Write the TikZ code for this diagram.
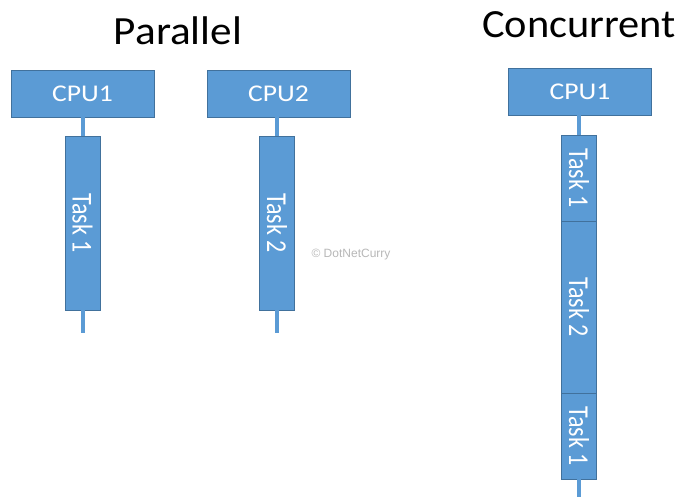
\documentclass[tikz,border=0pt]{standalone}
\usepackage{fontspec}
\usepackage{graphicx}
\setmainfont{Carlito}
\newfontfamily\markfont{Liberation Sans}
\definecolor{cpufill}{HTML}{5B9BD5}
\definecolor{cpuedge}{HTML}{41719C}
\newcommand{\widetext}[2]{\scalebox{#1}[1]{#2}}
\newcommand{\tallglyphs}[1]{\scalebox{1}[1.2]{#1}}
\begin{document}
\begin{tikzpicture}[x=1pt,y=-1pt,
  cpubox/.style={draw=cpuedge,fill=cpufill,line width=0.9pt,minimum width=143pt,minimum height=47pt,
    inner sep=0pt,text=white,font=\fontsize{24}{24}\selectfont},
  taskbox/.style={draw=cpuedge,fill=cpufill,line width=0.9pt,minimum width=35pt,inner sep=0pt},
  tasklabel/.style={rotate=-90,text=white,font=\fontsize{24}{24}\selectfont,inner sep=0pt},
  stem/.style={draw=cpufill,line width=4pt},
  heading/.style={font=\fontsize{40}{40}\selectfont,text=black,inner sep=0pt}]
\useasboundingbox (0,0) rectangle (684,496);
\fill[white] (0,0) rectangle (684,496);

% titles
\node[heading] (tpar) at (178,31) {\widetext{1.08}{Parallel}};
\node[heading] (tcon) at (579,25) {\widetext{1.06}{Concurrent}};

% parallel: two processors, one task each
\node[cpubox] (cpuA) at (82.5,93.5) {\widetext{1.15}{CPU1}};
\node[cpubox] (cpuB) at (278.5,93.5) {\widetext{1.15}{CPU2}};
\node[taskbox,minimum height=174pt] (taskA) at (82.5,223) {};
\node[taskbox,minimum height=174pt] (taskB) at (277,223) {};
\node[tasklabel] (labA) at (taskA) {\tallglyphs{Task 1}};
\node[tasklabel] (labB) at (taskB) {\tallglyphs{Task 2}};
\coordinate (endA) at (82.5,333);
\coordinate (endB) at (277,333);
\draw[stem] (cpuA.south) -- (taskA.north);
\draw[stem] (taskA.south) -- (endA);
\draw[stem] (cpuB.south -| taskB.north) -- (taskB.north);
\draw[stem] (taskB.south) -- (endB);

% concurrent: one processor switching between tasks
\node[cpubox] (cpuC) at (580,91.5) {\widetext{1.15}{CPU1}};
\node[taskbox,minimum height=86pt] (segA) at (579,178) {};
\node[taskbox,minimum height=172pt] (segB) at (579,307) {};
\node[taskbox,minimum height=86pt] (segC) at (579,436) {};
\node[tasklabel] (labC) at (segA) {\tallglyphs{Task 1}};
\node[tasklabel] (labD) at (segB) {\tallglyphs{Task 2}};
\node[tasklabel] (labE) at (segC) {\tallglyphs{Task 1}};
\coordinate (endC) at (579,498);
\draw[stem] (cpuC.south -| segA.north) -- (segA.north);
\draw[stem] (segC.south) -- (endC);

% watermark
\node[font=\markfont\fontsize{12}{12}\selectfont,text=black!28,inner sep=0pt] (mark) at (351,255) {© DotNetCurry};
\end{tikzpicture}
\end{document}
